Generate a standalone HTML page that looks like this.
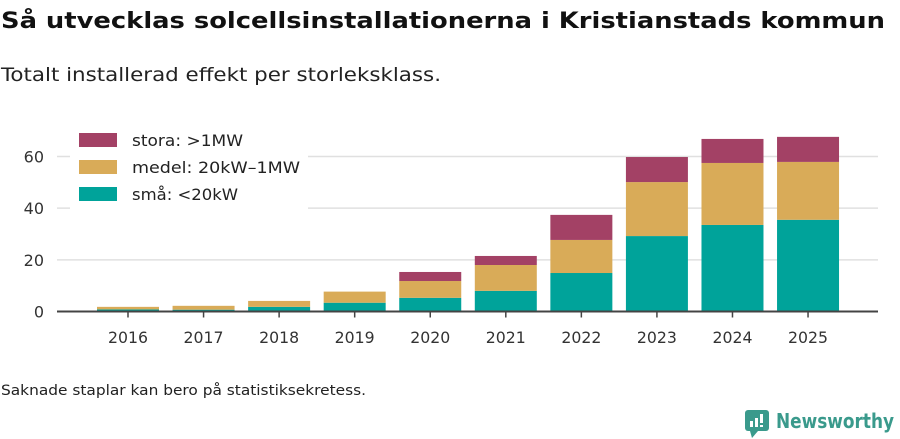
<!DOCTYPE html>
<html><head><meta charset="utf-8"><style>
body{margin:0;background:#fff;font-family:"DejaVu Sans","Liberation Sans",sans-serif;}
#wrap{position:relative;width:900px;height:439px;overflow:hidden;}
</style></head><body><div id="wrap">
<svg id="chart" width="900" height="439" style="position:absolute;left:0;top:0" font-family="DejaVu Sans, Liberation Sans, sans-serif">
<text x="1" y="28" font-size="22" font-weight="bold" fill="#111" textLength="884" lengthAdjust="spacingAndGlyphs">Så utvecklas solcellsinstallationerna i Kristianstads kommun</text>
<text x="1" y="81" font-size="19" fill="#222" textLength="440" lengthAdjust="spacingAndGlyphs">Totalt installerad effekt per storleksklass.</text>
<text x="1" y="395" font-size="14" fill="#222" textLength="365" lengthAdjust="spacingAndGlyphs">Saknade staplar kan bero på statistiksekretess.</text>
<g>
<rect x="745" y="410" width="24" height="21" rx="3" fill="#3a9a8c"/><polygon points="750,431 758,431 752,438" fill="#3a9a8c"/><rect x="750" y="421" width="3" height="6" fill="#fff"/><rect x="755" y="418" width="3" height="9" fill="#fff"/><rect x="760" y="414" width="3" height="9" fill="#fff"/><rect x="760" y="425" width="3" height="2" fill="#fff"/>
<text x="776" y="428" font-size="20" font-weight="bold" fill="#3a9a8c" textLength="118" lengthAdjust="spacingAndGlyphs">Newsworthy</text>
</g>
</svg>
</div>
<script>
const years=["2016","2017","2018","2019","2020","2021","2022","2023","2024","2025"];
const small=[0.8,0.7,1.8,3.4,5.3,8.0,14.9,29.2,33.5,35.5];
const medium=[1.0,1.5,2.3,4.3,6.5,10.0,12.8,20.9,24.0,22.4];
const large=[0,0,0,0,3.5,3.5,9.7,9.7,9.3,9.7];
const yTicks=[0,20,40,60];
const NS="http://www.w3.org/2000/svg";
const svg=document.getElementById('chart');
const x0=57,x1=878,y0=311.5,pxPer=(311.5-156.5)/60;
const y=v=>y0-v*pxPer;
const step=75.56,first=128,bw=62;
const xc=i=>first+i*step;
function mk(t,a){const e=document.createElementNS(NS,t);for(const k in a)e.setAttribute(k,a[k]);svg.appendChild(e);return e;}
yTicks.forEach(t=>{
 if(t>0){const g=mk('line',{x1:x0,x2:x1,y1:y(t),y2:y(t),stroke:'#e0e0e0','stroke-width':1.5});
 
 }
 const l=mk('text',{x:44,y:y(t)+6,'text-anchor':'end','font-size':16,fill:'#333'});
 l.textContent=t;
 
 
});
const series=[[small,'#00a39a','sma'],[medium,'#d9ab58','medel'],[large,'#a34165','stora']];
years.forEach((yr,i)=>{
 let base=0;
 series.forEach(([arr,col,nm])=>{
  const v=arr[i];if(v<=0)return;
  const r=mk('rect',{x:xc(i)-bw/2,y:y(base+v),width:bw,height:v*pxPer,fill:col});
  
  
  base+=v;
 });
 const tk=mk('line',{x1:xc(i),x2:xc(i),y1:y0,y2:y0+6,stroke:'#444','stroke-width':1.5});
 
 
 const l=mk('text',{x:xc(i),y:343,'text-anchor':'middle','font-size':16,fill:'#333',textLength:40,lengthAdjust:'spacingAndGlyphs'});
 l.textContent=yr;
 
 
});
const ax=mk('line',{x1:x0,x2:x1,y1:y0,y2:y0,stroke:'#444','stroke-width':2});


const bg=mk('rect',{x:70,y:124,width:238,height:86,fill:'#fff'});


[['stora: >1MW','#a34165',133,111],['medel: 20kW–1MW','#d9ab58',160,168],['små: <20kW','#00a39a',187,106]].forEach(([t,c,yy,w])=>{
 const s=mk('rect',{x:79,y:yy,width:38,height:14,fill:c});
 
 
 const l=mk('text',{x:132,y:yy+13,'font-size':16,fill:'#222',textLength:w,lengthAdjust:'spacingAndGlyphs'});
 l.textContent=t;
 
 
});
</script></body></html>
